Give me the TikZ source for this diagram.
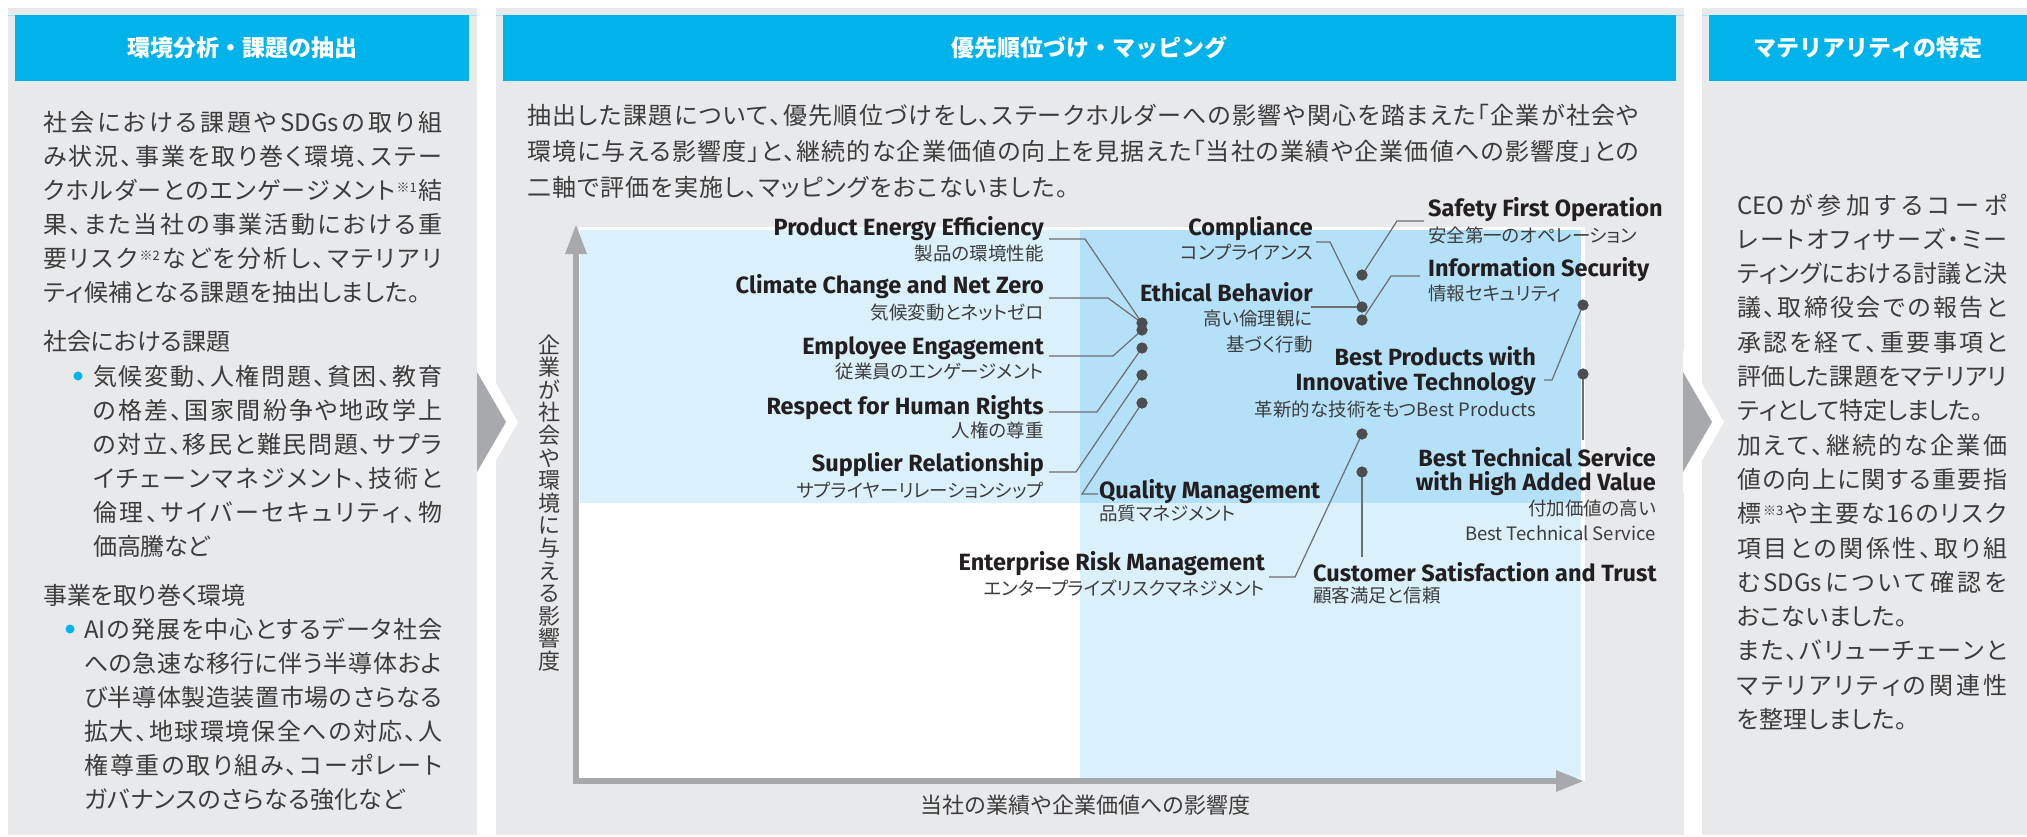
\documentclass[tikz,border=0pt]{standalone}
\usepackage{fontspec}
\setmainfont{Fira Sans}
\newfontfamily\jp{Noto Sans CJK JP}[RawFeature=+palt]
\newfontfamily\jh{Noto Sans CJK JP}
\newfontfamily\en{Fira Sans}
\definecolor{hblue}{HTML}{00B4EB}
\definecolor{pgray}{HTML}{E8E9EB}
\definecolor{cgray}{HTML}{A7A9AC}
\definecolor{lblue}{HTML}{DAF0FB}
\definecolor{dblue}{HTML}{B5E1F8}
\definecolor{btext}{HTML}{3C3C3C}
\definecolor{etext}{HTML}{231F20}
\definecolor{dotc}{HTML}{4D4D4F}
\definecolor{leadc}{HTML}{6D6E71}
\makeatletter
\newcommand\jf[2]{\hbox to #1{\@tfor\jf@c:=#2\do{\jf@c\hskip 0pt plus 1fil minus 4pt}\unskip}}
\makeatother
\newcommand\nt[1]{\raisebox{7pt}{\fontsize{13}{13}\selectfont ※#1}}
\tikzset{
  header/.style={fill=hblue, inner sep=0pt, minimum height=66pt, text=white,
    font=\jh\bfseries\fontsize{23}{28}\selectfont},
  body/.style={anchor=base west, inner sep=0pt, text=btext, font=\jp\fontsize{24}{34}\selectfont},
  en/.style={inner sep=0pt, text=etext, font=\en\bfseries\fontsize{23.5}{26}\selectfont},
  jl/.style={inner sep=0pt, text=btext, font=\jp\fontsize{18.5}{22}\selectfont},
  axl/.style={inner sep=0pt, text=btext, font=\jh\fontsize{22}{22.6}\selectfont},
  lead/.style={draw=leadc, line width=1.2pt},
  dotn/.style={circle, fill=dotc, minimum size=11pt, inner sep=0pt},
  bul/.style={circle, fill=hblue, minimum size=9pt, inner sep=0pt},
}
\begin{document}
\begin{tikzpicture}[x=1pt, y=-1pt]
\useasboundingbox (0,0) rectangle (2027,836);
\fill[white] (0,0) rectangle (2027,836);
% panels
\fill[pgray] (8,8) rectangle (477,835);
\fill[pgray] (496,8) rectangle (1684,835);
\fill[pgray] (1702,8) rectangle (2027,835);
\draw[hblue!35, line width=0.8pt] (8,15) -- (477,15) (496,15) -- (1684,15) (1702,15) -- (2027,15);
\node[header, minimum width=454pt] (h1) at (242,48) {環境分析・課題の抽出};
\node[header, minimum width=1173pt] (h2) at (1089.5,48) {優先順位づけ・マッピング};
\node[header, minimum width=318pt] (h3) at (1868,48) {マテリアリティの特定};
% chevrons
\fill[white] (477,350) -- (518,422) -- (477,494) -- cycle;
\fill[cgray] (477,372) -- (506,422) -- (477,472) -- cycle;
\fill[white] (1683,350) -- (1724,422) -- (1683,494) -- cycle;
\fill[cgray] (1683,372) -- (1712,422) -- (1683,472) -- cycle;
% left panel text
\node[body] (l1) at (43,131) {\jf{399pt}{社会における課題や{SDGs}の取り組}};
\node[body] (l2) at (43,165) {\jf{399pt}{み状況、事業を取り巻く環境、ステー}};
\node[body] (l3) at (43,199) {\jf{399pt}{クホルダーとのエンゲージメント{\nt{1}}結}};
\node[body] (l4) at (43,233) {\jf{399pt}{果、また当社の事業活動における重}};
\node[body] (l5) at (43,267) {\jf{399pt}{要リスク{\nt{2}}などを分析し、マテリアリ}};
\node[body] (l6) at (43,301) {\jf{377pt}{ティ候補となる課題を抽出しました。}};
\node[body] (s1) at (43,350) {社会における課題};
\node[bul] (b1) at (78,376) {};
\node[body] (a1) at (93,385) {\jf{349pt}{気候変動、人権問題、貧困、教育}};
\node[body] (a2) at (93,419) {\jf{349pt}{の格差、国家間紛争や地政学上}};
\node[body] (a3) at (93,453) {\jf{349pt}{の対立、移民と難民問題、サプラ}};
\node[body] (a4) at (93,487) {\jf{349pt}{イチェーンマネジメント、技術と}};
\node[body] (a5) at (93,521) {\jf{349pt}{倫理、サイバーセキュリティ、物}};
\node[body] (a6) at (93,555) {\jf{117pt}{価高騰など}};
\node[body] (s2) at (43,604) {事業を取り巻く環境};
\node[bul] (b2) at (70,629) {};
\node[body] (c1) at (84,638) {\jf{358pt}{{AI}の発展を中心とするデータ社会}};
\node[body] (c2) at (84,672) {\jf{358pt}{への急速な移行に伴う半導体およ}};
\node[body] (c3) at (84,706) {\jf{358pt}{び半導体製造装置市場のさらなる}};
\node[body] (c4) at (84,740) {\jf{358pt}{拡大、地球環境保全への対応、人}};
\node[body] (c5) at (84,774) {\jf{358pt}{権尊重の取り組み、コーポレート}};
\node[body] (c6) at (84,808) {\jf{321pt}{ガバナンスのさらなる強化など}};
% middle paragraph
\node[body] (m1) at (527,124) {\jf{1112pt}{抽出した課題について、優先順位づけをし、ステークホルダーへの影響や関心を踏まえた「企業が社会や}};
\node[body] (m2) at (527,160) {\jf{1112pt}{環境に与える影響度」と、継続的な企業価値の向上を見据えた「当社の業績や企業価値への影響度」との}};
\node[body] (m3) at (527,196) {\jf{541pt}{二軸で評価を実施し、マッピングをおこないました。}};
% chart background
\fill[white] (579,227) rectangle (1585,781);
\fill[lblue] (580,230) rectangle (1080,503);
\fill[lblue] (1080,230) rectangle (1581,778);
\fill[dblue] (1080,230) rectangle (1581,503);
% axes
\fill[cgray] (573,250) rectangle (579,784);
\fill[cgray] (565,254) -- (576,225) -- (587,254) -- cycle;
\fill[cgray] (573,778) rectangle (1558,784);
\fill[cgray] (1556,770) -- (1583,781) -- (1556,792) -- cycle;
\node[axl, anchor=base] (xl) at (1085,813) {当社の業績や企業価値への影響度};
\node[axl, align=center] (yl) at (549,503) {企\\業\\が\\社\\会\\や\\環\\境\\に\\与\\え\\る\\影\\響\\度};
% dots
\node[dotn] (d1) at (1142,323) {};
\node[dotn] (d2) at (1142,330) {};
\node[dotn] (d3) at (1142,348) {};
\node[dotn] (d4) at (1142,375) {};
\node[dotn] (d5) at (1142,403) {};
\node[dotn] (e1) at (1362,275) {};
\node[dotn] (e2) at (1362,307) {};
\node[dotn] (e3) at (1362,320) {};
\node[dotn] (e4) at (1362,434) {};
\node[dotn] (e5) at (1362,472) {};
\node[dotn] (f1) at (1583,305) {};
\node[dotn] (f2) at (1583,374) {};
% labels left
\node[en, anchor=base east] (pee) at (1044,235) {Product Energy Efficiency};
\node[jl, anchor=base east] (peej) at (1044,260) {製品の環境性能};
\node[en, anchor=base east] (cc) at (1044,293) {Climate Change and Net Zero};
\node[jl, anchor=base east] (ccj) at (1044,319) {気候変動とネットゼロ};
\node[en, anchor=base east] (ee) at (1044,354) {Employee Engagement};
\node[jl, anchor=base east] (eej) at (1044,378) {従業員のエンゲージメント};
\node[en, anchor=base east] (rhr) at (1044,414) {Respect for Human Rights};
\node[jl, anchor=base east] (rhrj) at (1044,437) {人権の尊重};
\node[en, anchor=base east] (sr) at (1044,471) {Supplier Relationship};
\node[jl, anchor=base east] (srj) at (1044,497) {サプライヤーリレーションシップ};
\node[en, anchor=base west] (qm) at (1099,498) {Quality Management};
\node[jl, anchor=base west] (qmj) at (1099,520) {品質マネジメント};
% labels middle/right
\node[en, anchor=base east] (co) at (1313,235) {Compliance};
\node[jl, anchor=base east] (coj) at (1313,259) {コンプライアンス};
\node[en, anchor=base east] (eb) at (1313,301) {Ethical Behavior};
\node[jl, anchor=base east] (ebj1) at (1313,325) {高い倫理観に};
\node[jl, anchor=base east] (ebj2) at (1313,351) {基づく行動};
\node[en, anchor=base west] (sf) at (1428,216) {Safety First Operation};
\node[jl, anchor=base west] (sfj) at (1428,242) {安全第一のオペレーション};
\node[en, anchor=base west] (is) at (1428,276) {Information Security};
\node[jl, anchor=base west] (isj) at (1428,300) {情報セキュリティ};
\node[en, anchor=base east] (bp1) at (1536,365) {Best Products with};
\node[en, anchor=base east] (bp2) at (1536,390) {Innovative Technology};
\node[jl, anchor=base east] (bpj) at (1536,416) {革新的な技術をもつBest Products};
\node[en, anchor=base east] (bt1) at (1656,466) {Best Technical Service};
\node[en, anchor=base east] (bt2) at (1656,490) {with High Added Value};
\node[jl, anchor=base east] (btj1) at (1656,515) {付加価値の高い};
\node[jl, anchor=base east] (btj2) at (1656,540) {Best Technical Service};
\node[en, anchor=base east] (erm) at (1265,570) {Enterprise Risk Management};
\node[jl, anchor=base east] (ermj) at (1265,595) {エンタープライズリスクマネジメント};
\node[en, anchor=base west] (cs) at (1313,581) {Customer Satisfaction and Trust};
\node[jl, anchor=base west] (csj) at (1313,602) {顧客満足と信頼};
% leader start points
\coordinate (pee-l) at (1049,239);
\coordinate (cc-l) at (1049,298);
\coordinate (ee-l) at (1049,356);
\coordinate (rhr-l) at (1049,412);
\coordinate (sr-l) at (1049,472);
\coordinate (qm-l) at (1098,494);
\coordinate (co-l) at (1316,242);
\coordinate (eb-l) at (1311,307);
\coordinate (sf-l) at (1424,221);
\coordinate (is-l) at (1420,276);
\coordinate (bp-l) at (1544,380);
\coordinate (bt-l) at (1583,440);
\coordinate (erm-l) at (1269,577);
\coordinate (cs-l) at (1362,557);
\draw[lead] (pee-l) -- ++(36,0) -- (d1.center);
\draw[lead] (cc-l) -- ++(59,0) -- (d1.center);
\draw[lead] (ee-l) -- ++(64,0) -- (d2.center);
\draw[lead] (rhr-l) -- ++(48,0) -- (d3.center);
\draw[lead] (sr-l) -- ++(27,0) -- (d4.center);
\draw[lead] (qm-l) -- ++(-16,0) -- (d5.center);
\draw[lead] (co-l) -- ++(14,0) -- (e2.center);
\draw[lead] (eb-l) -- (e2.center);
\draw[lead] (sf-l) -- ++(-27,0) -- (e1.center);
\draw[lead] (is-l) -- ++(-29,0) -- (e3.center);
\draw[lead] (bp-l) -- ++(8,0) -- (f1.center);
\draw[lead] (f2.center) -- (bt-l);
\draw[lead] (erm-l) -- ++(26,0) -- (e4.center);
\draw[lead] (e5.center) -- (cs-l);
% dots on top of leaders
\foreach \p in {d1,d2,d3,d4,d5,e1,e2,e3,e4,e5,f1,f2}{\fill[dotc] (\p.center) circle (5.5pt);}
% right panel text
\node[body] (r1) at (1737,214) {\jf{270pt}{{CEO}が参加するコーポ}};
\node[body] (r2) at (1737,248.3) {\jf{270pt}{レートオフィサーズ・ミー}};
\node[body] (r3) at (1737,282.6) {\jf{270pt}{ティングにおける討議と決}};
\node[body] (r4) at (1737,316.9) {\jf{270pt}{議、取締役会での報告と}};
\node[body] (r5) at (1737,351.2) {\jf{270pt}{承認を経て、重要事項と}};
\node[body] (r6) at (1737,385.5) {\jf{270pt}{評価した課題をマテリアリ}};
\node[body] (r7) at (1737,419.8) {\jf{246pt}{ティとして特定しました。}};
\node[body] (r8) at (1737,454.1) {\jf{270pt}{加えて、継続的な企業価}};
\node[body] (r9) at (1737,488.4) {\jf{270pt}{値の向上に関する重要指}};
\node[body] (r10) at (1737,522.7) {\jf{270pt}{標{\nt{3}}や主要な{16}のリスク}};
\node[body] (r11) at (1737,557) {\jf{270pt}{項目との関係性、取り組}};
\node[body] (r12) at (1737,591.3) {\jf{270pt}{む{SDGs}について確認を}};
\node[body] (r13) at (1737,625.6) {\jf{170pt}{おこないました。}};
\node[body] (r14) at (1737,659.9) {\jf{270pt}{また、バリューチェーンと}};
\node[body] (r15) at (1737,694.2) {\jf{270pt}{マテリアリティの関連性}};
\node[body] (r16) at (1737,728.5) {\jf{170pt}{を整理しました。}};
\end{tikzpicture}
\end{document}
